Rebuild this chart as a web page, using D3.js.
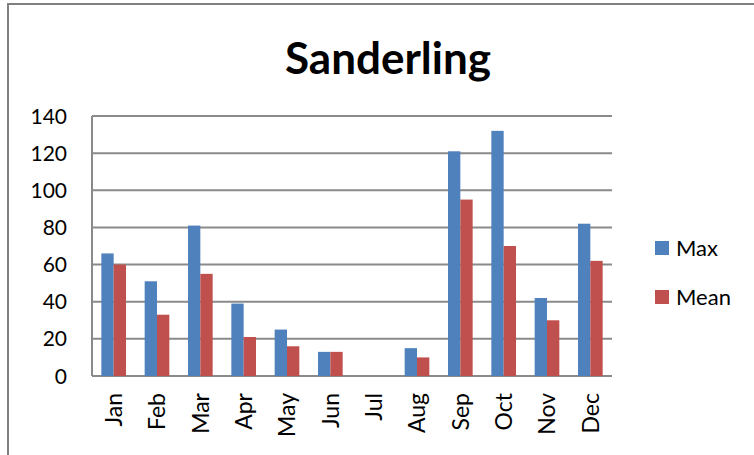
<!DOCTYPE html>
<html>
<head>
<meta charset="utf-8">
<script src="https://cdn.jsdelivr.net/npm/d3@7"></script>
<style>
  body { margin: 0; background: #fff; }
  text { font-family: Lato, "Open Sans", sans-serif; fill: #000; }
</style>
</head>
<body>
<script>
const months = ["Jan", "Feb", "Mar", "Apr", "May", "Jun", "Jul", "Aug", "Sep", "Oct", "Nov", "Dec"];
const maxVals = [66, 51, 81, 39, 25, 13, 0, 15, 121, 132, 42, 82];
const meanVals = [60, 33, 55, 21, 16, 13, 0, 10, 95, 70, 30, 62];
const seriesNames = ["Max", "Mean"];
const yTicks = [0, 20, 40, 60, 80, 100, 120, 140];
const colors = {Max: "#4F81BD", Mean: "#C0504D"};

const W = 754, H = 455;
const plot = {left: 92, right: 612, top: 116, bottom: 376};

const svg = d3.select("body").append("svg")
    .attr("width", W)
    .attr("height", H);

// outer chart frame (only left and top edges show in the crop)
svg.append("path")
    .attr("d", `M8,${H} L8,4 L${W},4`)
    .attr("fill", "none")
    .attr("stroke", "#808080")
    .attr("stroke-width", 2);

svg.append("text")
    .attr("x", 388)
    .attr("y", 74)
    .attr("text-anchor", "middle")
    .style("font-size", "44px")
    .style("font-weight", "bold")
    .text("Sanderling");

const x0 = d3.scaleBand()
    .domain(months)
    .range([plot.left, plot.right])
    .paddingInner(0.431)
    .paddingOuter(0.2155);
const x1 = d3.scaleBand()
    .domain(seriesNames)
    .range([0, x0.bandwidth()]);
const y = d3.scaleLinear()
    .domain([0, 140])
    .range([plot.bottom, plot.top]);

// gridlines
svg.append("g")
    .selectAll("line")
    .data(yTicks)
    .enter()
    .append("line")
        .attr("x1", plot.left)
        .attr("x2", plot.right)
        .attr("y1", d => y(d))
        .attr("y2", d => y(d))
        .attr("stroke", "#8a8a8a")
        .attr("stroke-width", 2);

// y axis line + labels
svg.append("line")
    .attr("x1", plot.left).attr("x2", plot.left)
    .attr("y1", plot.top).attr("y2", plot.bottom)
    .attr("stroke", "#8a8a8a")
    .attr("stroke-width", 2);

svg.append("g")
    .selectAll("text")
    .data(yTicks)
    .enter()
    .append("text")
        .attr("x", 67)
        .attr("y", d => y(d))
        .attr("dy", "0.36em")
        .attr("text-anchor", "end")
        .style("font-size", "21px")
        .text(d => d);

const rows = months.map((m, i) => ({month: m, Max: maxVals[i], Mean: meanVals[i]}));

svg.append("g")
    .selectAll("g")
    .data(rows)
    .enter()
    .append("g")
        .attr("transform", d => `translate(${x0(d.month)},0)`)
    .selectAll("rect")
    .data(d => seriesNames.map(k => ({key: k, value: d[k]})))
    .enter()
    .append("rect")
        .attr("x", d => x1(d.key))
        .attr("y", d => y(d.value))
        .attr("width", x1.bandwidth())
        .attr("height", d => y(0) - y(d.value))
        .attr("fill", d => colors[d.key]);

// month labels, rotated
svg.append("g")
    .selectAll("text")
    .data(months)
    .enter()
    .append("text")
        .attr("transform", d => `translate(${x0(d) + x0.bandwidth() / 2},393) rotate(-90)`)
        .attr("dy", "0.36em")
        .attr("text-anchor", "end")
        .style("font-size", "23px")
        .text(d => d);

// legend
const legend = svg.append("g")
    .selectAll("g")
    .data(seriesNames)
    .enter()
    .append("g")
        .attr("transform", (d, i) => `translate(655,${241 + i * 49})`);
legend.append("rect")
    .attr("width", 14)
    .attr("height", 14)
    .attr("fill", d => colors[d]);
legend.append("text")
    .attr("x", 21)
    .attr("y", 15)
    .style("font-size", "22px")
    .text(d => d);
</script>
</body>
</html>
